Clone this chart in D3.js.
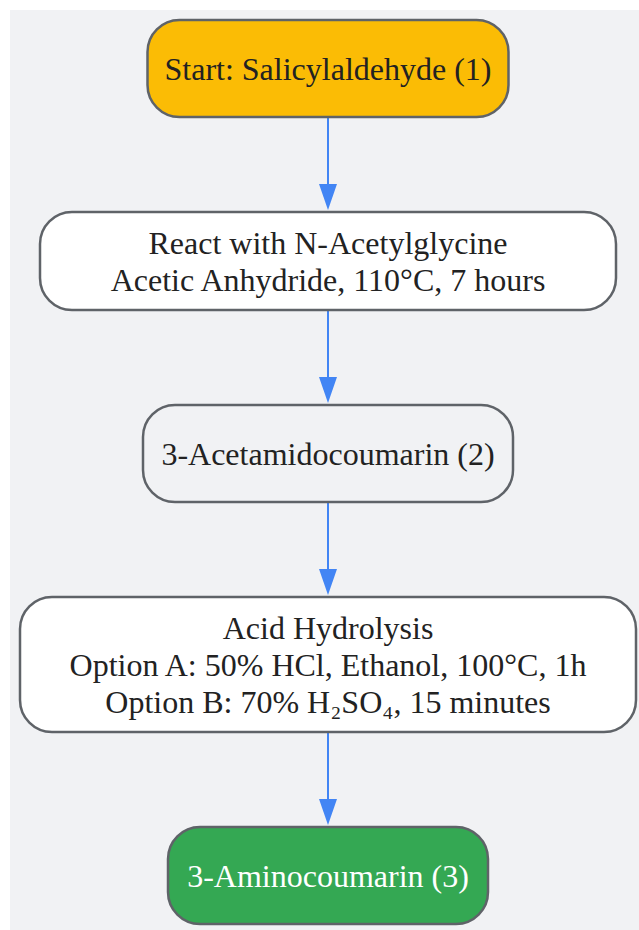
<!DOCTYPE html>
<html>
<head>
<meta charset="utf-8">
<script src="https://cdn.jsdelivr.net/npm/d3@7"></script>
<style>
  body { margin: 0; background: #fff; }
  svg text { font-family: "Liberation Serif", "Times New Roman", serif; }
</style>
</head>
<body>
<svg width="639" height="930"></svg>
<script>
// flow steps
var steps = ["start", "react", "intermediate", "hydrolysis", "product"];
var labels = [
  ["Start: Salicylaldehyde (1)"],
  ["React with N-Acetylglycine", "Acetic Anhydride, 110°C, 7 hours"],
  ["3-Acetamidocoumarin (2)"],
  ["Acid Hydrolysis", "Option A: 50% HCl, Ethanol, 100°C, 1h", "Option B: 70% H₂SO₄, 15 minutes"],
  ["3-Aminocoumarin (3)"]
];
var fills = ["#fbbc05", "#ffffff", "#f1f2f4", "#ffffff", "#34a853"];
var textColors = ["#222222", "#222222", "#222222", "#222222", "#ffffff"];

// layout
var boxW = [361, 576, 370, 616, 320];
var boxH = [97, 98, 97, 135, 97];
var gap = 95, topY = 20, lineH = 37;

var svg = d3.select("svg");
svg.append("rect")
  .attr("x", 10).attr("y", 10)
  .attr("width", 629).attr("height", 920)
  .attr("fill", "#f1f2f4");

var x = d3.scaleLinear().domain([0, 1]).range([0, 656]);
var cx = x(0.5);

var ys = [];
var acc = topY;
boxH.forEach(function(h){ ys.push(acc); acc += h + gap; });

var g = svg.append("g");

// arrows
for (var i = 0; i < steps.length - 1; i++) {
  var y1 = ys[i] + boxH[i] + 1, y2 = ys[i+1] - 2;
  g.append("line")
    .attr("x1", cx).attr("x2", cx)
    .attr("y1", y1).attr("y2", y2 - 20)
    .attr("stroke", "#4285f4").attr("stroke-width", 2);
  g.append("path")
    .attr("d", "M" + (cx-9) + "," + (y2-26) + "L" + (cx+9) + "," + (y2-26) + "L" + cx + "," + y2 + "Z")
    .attr("fill", "#4285f4");
}

var node = g.selectAll("g.node")
  .data(steps)
  .enter()
  .append("g")
  .attr("class", "node");

node.append("rect")
  .attr("x", (d,i) => cx - boxW[i]/2)
  .attr("y", (d,i) => ys[i])
  .attr("width", (d,i) => boxW[i])
  .attr("height", (d,i) => boxH[i])
  .attr("rx", 32).attr("ry", 32)
  .attr("fill", (d,i) => fills[i])
  .attr("stroke", "#5f6368")
  .attr("stroke-width", 2.5);

node.each(function(d, i){
  var n = labels[i].length;
  var mid = ys[i] + boxH[i]/2;
  d3.select(this).selectAll("text")
    .data(labels[i])
    .enter()
    .append("text")
    .attr("x", cx)
    .attr("y", (t,j) => mid + (j - (n-1)/2) * lineH)
    .attr("dy", "0.35em")
    .attr("text-anchor", "middle")
    .attr("font-size", 32)
    .attr("fill", textColors[i])
    .text(t => t);
});
</script>
</body>
</html>
